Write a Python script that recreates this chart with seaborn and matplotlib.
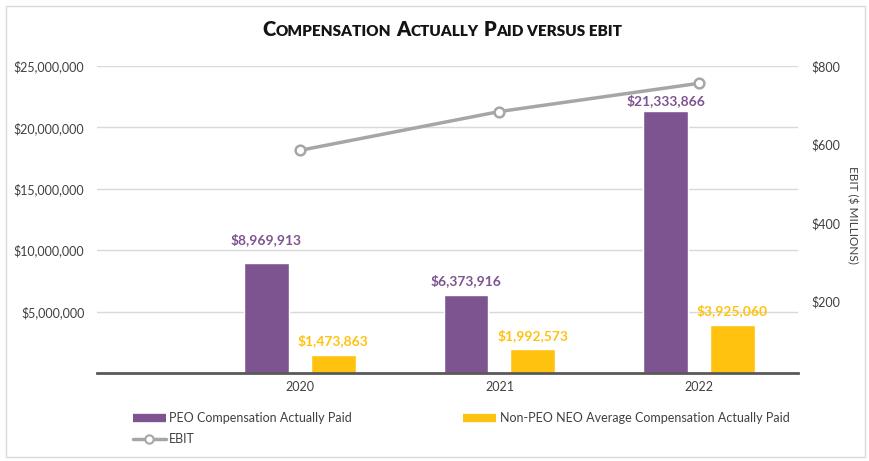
import numpy as np
import pandas as pd
import matplotlib
matplotlib.use('Agg')
import matplotlib.pyplot as plt
from matplotlib.lines import Line2D
from matplotlib.patches import Rectangle
import seaborn as sns

# data
years = ['2020', '2021', '2022']
peo_cap = [8969913, 6373916, 21333866]
neo_cap = [1473863, 1992573, 3925060]
ebit = [585, 684, 756]  # $ millions

series_names = ['PEO Compensation Actually Paid',
                'Non-PEO NEO Average Compensation Actually Paid']

purple = '#7E5490'
yellow = '#FFC20E'
gray = '#A6A6A6'
text_col = '#404040'

sns.set_style('white')
plt.rcParams['font.family'] = ['Lato', 'DejaVu Sans']

df = pd.DataFrame({
    'year': years * 2,
    'value': peo_cap + neo_cap,
    'series': [series_names[0]] * 3 + [series_names[1]] * 3,
})

fig = plt.figure(figsize=(8.69, 4.61), dpi=100)
ax = fig.add_axes([97 / 869, 1 - 373 / 461, (798 - 97) / 869, (373 - 66) / 461])

sns.barplot(data=df, x='year', y='value', hue='series', palette=[purple, yellow],
            width=0.67, gap=0.33, saturation=1, legend=False, ax=ax)

ax.set_xlim(-1.015, 2.495)
ax.set_ylim(0, 25000000)
ax.set_yticks(np.arange(5000000, 25000001, 5000000))
ax.set_yticklabels([f'${v:,.0f}' for v in ax.get_yticks()])
ax.set_xlabel('')
ax.set_ylabel('')
ax.yaxis.grid(True, color='#D9D9D9', lw=1)
ax.set_axisbelow(True)
ax.tick_params(axis='both', length=0, labelsize=9, labelcolor=text_col)
ax.tick_params(axis='y', pad=9)
ax.tick_params(axis='x', pad=6)
for s in ['left', 'right', 'top']:
    ax.spines[s].set_visible(False)
ax.spines['bottom'].set_color('#595959')
ax.spines['bottom'].set_linewidth(2)

# value labels above bars
offsets = [[23, 14, 10], [14, 13, 14]]  # px above bar top
for ci, (cont, col) in enumerate(zip(ax.containers, [purple, yellow])):
    for bi, rect in enumerate(cont):
        h = rect.get_height()
        ax.annotate(f'${h:,.0f}', (rect.get_x() + rect.get_width() / 2, h),
                    xytext=(0, offsets[ci][bi] * 0.72), textcoords='offset points',
                    ha='center', va='center', fontsize=10, fontweight='bold', color=col)

# EBIT line on secondary axis
ax2 = ax.twinx()
sns.lineplot(x=np.arange(len(years)), y=ebit, color=gray, lw=2.5, marker='o',
             markersize=7, markerfacecolor='white', markeredgecolor=gray,
             markeredgewidth=1.8, ax=ax2)
ax2.set_xlim(ax.get_xlim())
ax2.set_ylim(18, 800)
ax2.set_yticks([200, 400, 600, 800])
ax2.set_yticklabels([f'${v}' for v in [200, 400, 600, 800]])
ax2.tick_params(axis='y', length=0, labelsize=9, labelcolor=text_col, pad=10)
for s in ax2.spines.values():
    s.set_visible(False)
ax2.set_ylabel('EBIT ($ MILLIONS)', rotation=270, fontsize=8.5, color=text_col,
               va='center', ha='center')
ax2.yaxis.set_label_coords((852 - 97) / 701, 0.515)

# legend
handles = [
    Line2D([], [], color=purple, lw=6, solid_capstyle='butt'),
    Line2D([], [], color=gray, lw=2.5, marker='o', markersize=6,
           markerfacecolor='white', markeredgecolor=gray, markeredgewidth=1.5),
    Line2D([], [], color=yellow, lw=6, solid_capstyle='butt'),
]
labels = [series_names[0], 'EBIT', series_names[1]]
leg = fig.legend(handles, labels, loc='upper left', bbox_to_anchor=(133 / 869, 1 - 412 / 461),
                 ncol=2, frameon=False, fontsize=9, labelcolor=text_col,
                 borderpad=0, borderaxespad=0, handlelength=2.6, handletextpad=0.3,
                 columnspacing=8.9, labelspacing=0.75)

# small-caps title built from pieces
pieces = [('C', 14.5), ('OMPENSATION', 11), ('A', 14.5), ('CTUALLY', 11),
          ('P', 14.5), ('AID VERSUS EBIT', 11)]
gaps = [0, 0, 5, 0, 5, 0]
texts = []
for txt, fs in pieces:
    t = fig.text(0, 1 - 36 / 461, txt, fontsize=fs, fontweight='heavy',
                 color='#141414', ha='left', va='baseline')
    texts.append(t)

fig.canvas.draw()
r = fig.canvas.get_renderer()
x = 0.0
y = 1 - 36 / 461
positions = []
for t, g in zip(texts, gaps):
    x += g / 869
    positions.append(x)
    x += t.get_window_extent(r).width / 869
start = 442 / 869 - x / 2
for t, p in zip(texts, positions):
    t.set_position((start + p, y))

fig.patches.append(Rectangle((6 / 869, 4 / 461), (865 - 6) / 869, (455 - 4) / 461,
                             transform=fig.transFigure, fill=False,
                             ec='#D9D9D9', lw=1))

fig.savefig('out.png', dpi=100)
